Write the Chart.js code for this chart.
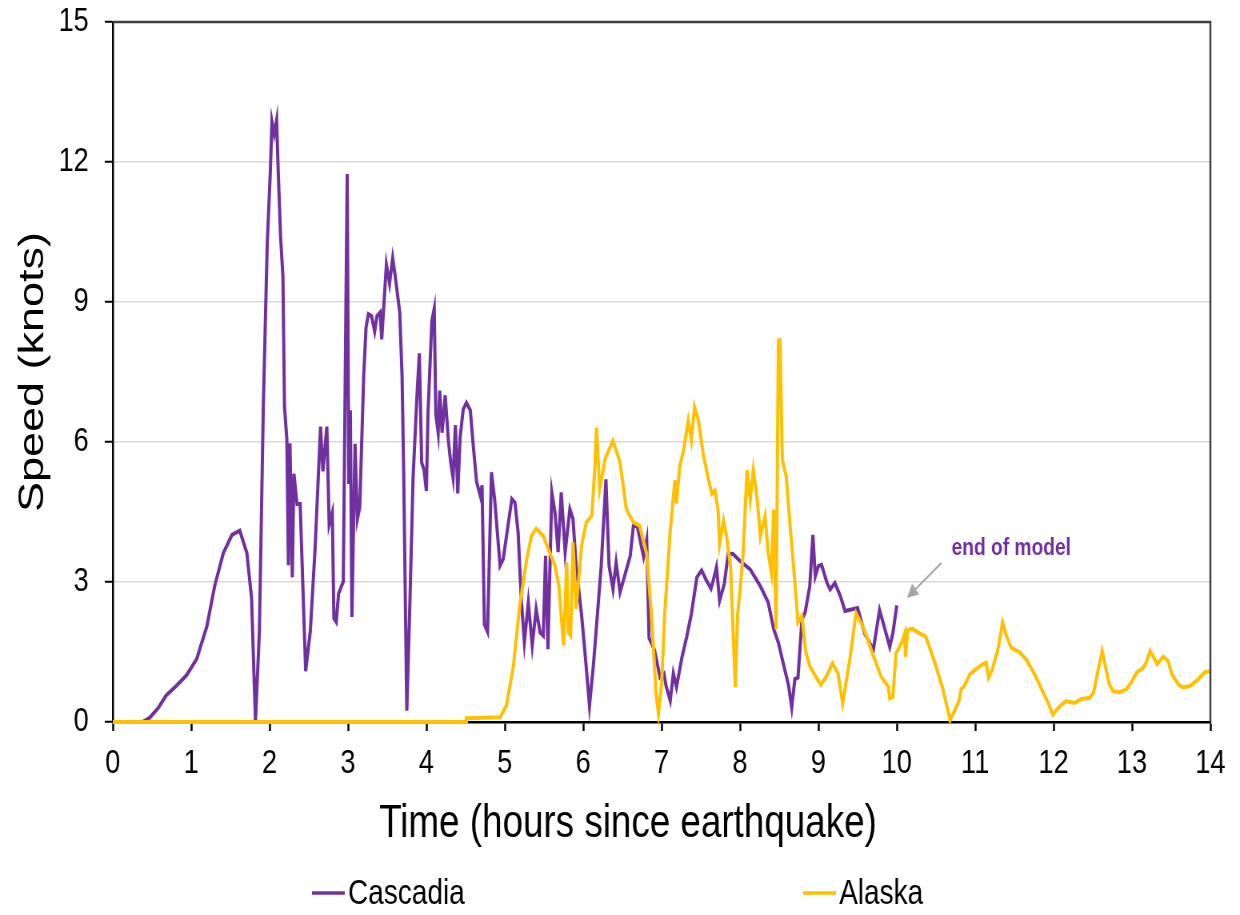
<!DOCTYPE html>
<html>
<head>
<meta charset="utf-8">
<script src="https://cdn.jsdelivr.net/npm/chart.js@4"></script>
<style>
  body { margin: 0; background: #fff; overflow: hidden; }
  /* the source figure is squeezed horizontally, so draw wide and squeeze */
  #wrap { width: 1550px; height: 915px; transform: scaleX(0.8); transform-origin: 0 0; }
</style>
</head>
<body>
<div id="wrap"><canvas id="speedChart" width="1550" height="915"></canvas></div>
<script>
// Cascadia current speed (hours since quake / knots)
const cascadiaHours = [0, 0.38, 0.47, 0.58, 0.68, 0.79, 0.94, 1.07, 1.20, 1.30, 1.41, 1.52, 1.62, 1.71, 1.77, 1.82, 1.87, 1.92, 1.97, 2.01,
  2.03, 2.06, 2.09, 2.11, 2.14, 2.17, 2.19, 2.22, 2.24, 2.26, 2.29, 2.31, 2.35, 2.39, 2.46, 2.52, 2.58, 2.65, 2.68, 2.73,
  2.76, 2.80, 2.82, 2.85, 2.88, 2.94, 2.99, 3.01, 3.03, 3.05, 3.09, 3.12, 3.15, 3.20, 3.23, 3.26, 3.30, 3.34, 3.37, 3.41,
  3.43, 3.46, 3.49, 3.53, 3.57, 3.60, 3.66, 3.69, 3.71, 3.75, 3.79, 3.83, 3.88, 3.91, 3.94, 3.97, 4.00, 4.02, 4.07, 4.10,
  4.12, 4.15, 4.17, 4.20, 4.24, 4.28, 4.31, 4.34, 4.37, 4.40, 4.43, 4.47, 4.51, 4.56, 4.60, 4.64, 4.69, 4.71, 4.74, 4.78,
  4.83, 4.87, 4.94, 4.98, 5.04, 5.09, 5.13, 5.17, 5.21, 5.25, 5.30, 5.35, 5.40, 5.45, 5.49, 5.52, 5.55, 5.60, 5.64, 5.68,
  5.72, 5.77, 5.83, 5.87, 5.91, 5.98, 6.03, 6.08, 6.13, 6.19, 6.23, 6.29, 6.33, 6.38, 6.42, 6.47, 6.53, 6.60, 6.64, 6.69,
  6.74, 6.77, 6.81, 6.84, 6.91, 6.98, 7.03, 7.06, 7.11, 7.15, 7.19, 7.26, 7.32, 7.38, 7.45, 7.51, 7.57, 7.63, 7.66, 7.70,
  7.74, 7.80, 7.85, 7.91, 8.00, 8.13, 8.26, 8.36, 8.43, 8.49, 8.55, 8.62, 8.66, 8.70, 8.74, 8.79, 8.83, 8.89, 8.93, 8.96,
  9.00, 9.04, 9.11, 9.15, 9.21, 9.28, 9.34, 9.50, 9.59, 9.70, 9.78, 9.84, 9.91, 9.95, 10.00];
const cascadiaSpeed = [0, 0, 0.09, 0.3, 0.57, 0.74, 1.0, 1.35, 2.05, 2.92, 3.62, 4.01, 4.1, 3.62, 2.66, 0, 1.96, 6.76, 10.25, 11.82,
  12.87, 12.6, 12.9, 11.8, 10.4, 9.55, 6.76, 6.06, 3.36, 5.97, 3.1, 5.32, 4.67, 4.67, 1.09, 1.96, 3.71, 6.33, 5.37, 6.33,
  4.23, 4.49, 2.22, 2.14, 2.75, 3.01, 11.74, 5.1, 6.68, 2.25, 5.96, 4.35, 4.6, 7.4, 8.45, 8.74, 8.7, 8.37, 8.7, 8.78,
  8.2, 9.0, 9.8, 9.4, 9.94, 9.58, 8.78, 7.4, 5.4, 0.24, 2.58, 5.23, 7.0, 7.9, 5.56, 5.4, 4.95, 6.6, 8.6, 8.86,
  6.6, 6.2, 7.1, 6.2, 7.0, 6.04, 5.56, 5.23, 6.36, 4.9, 6.1, 6.7, 6.84, 6.68, 5.88, 5.15, 4.83, 5.07, 2.09, 1.93,
  5.35, 4.78, 3.35, 3.49, 4.2, 4.78, 4.7, 4.06, 2.64, 1.71, 2.56, 1.64, 2.42, 1.92, 1.85, 3.56, 1.56, 4.92, 4.49, 3.64,
  4.92, 3.64, 4.56, 4.35, 3.35, 2.28, 1.35, 0.35, 1.21, 2.49, 3.35, 5.2, 3.35, 2.85, 3.42, 2.78, 3.14, 3.56, 4.2, 4.2,
  3.78, 3.54, 3.9, 1.8, 1.54, 0.96, 1.04, 0.75, 0.46, 1.04, 0.75, 1.39, 1.82, 2.32, 3.1, 3.25, 3.04, 2.86, 3.04, 3.32,
  2.6, 2.96, 3.61, 3.6, 3.45, 3.27, 2.91, 2.56, 1.99, 1.7, 1.27, 0.78, 0.31, 0.92, 0.95, 2.2, 2.34, 2.91, 4.01, 3.12,
  3.34, 3.37, 2.98, 2.84, 2.98, 2.7, 2.38, 2.44, 1.9, 1.54, 2.4, 2.04, 1.61, 1.9, 2.5];

// Alaska current speed
const alaskaHours = [0, 4.50, 4.51, 4.94, 5.02, 5.11, 5.19, 5.28, 5.34, 5.40, 5.49, 5.57, 5.64, 5.69, 5.72, 5.75, 5.79, 5.81, 5.84, 5.87,
  5.91, 5.98, 6.04, 6.11, 6.15, 6.17, 6.21, 6.28, 6.38, 6.47, 6.55, 6.64, 6.72, 6.81, 6.87, 6.93, 6.96, 7.00, 7.04, 7.11,
  7.17, 7.19, 7.23, 7.28, 7.34, 7.38, 7.42, 7.47, 7.53, 7.60, 7.64, 7.68, 7.72, 7.74, 7.79, 7.83, 7.88, 7.94, 7.97, 8.00,
  8.04, 8.09, 8.13, 8.17, 8.22, 8.26, 8.32, 8.36, 8.40, 8.43, 8.46, 8.49, 8.51, 8.54, 8.59, 8.64, 8.69, 8.74, 8.79, 8.84,
  8.89, 8.96, 9.03, 9.10, 9.18, 9.25, 9.31, 9.40, 9.48, 9.57, 9.69, 9.80, 9.89, 9.91, 9.95, 9.99, 10.06, 10.10, 10.11, 10.14,
  10.20, 10.29, 10.37, 10.40, 10.50, 10.59, 10.68, 10.78, 10.80, 10.82, 10.86, 10.93, 11.01, 11.10, 11.14, 11.17, 11.22, 11.29, 11.35, 11.40,
  11.46, 11.57, 11.65, 11.76, 11.86, 11.93, 11.99, 12.08, 12.16, 12.27, 12.35, 12.46, 12.51, 12.57, 12.62, 12.66, 12.71, 12.76, 12.84, 12.93,
  13.00, 13.06, 13.14, 13.18, 13.23, 13.28, 13.32, 13.40, 13.46, 13.51, 13.59, 13.65, 13.74, 13.84, 13.93, 14.00];
const alaskaSpeed = [0, 0, 0.08, 0.1, 0.35, 1.2, 2.49, 3.49, 3.99, 4.14, 3.99, 3.64, 3.35, 2.92, 2.28, 1.64, 3.42, 1.92, 1.85, 3.85,
  2.42, 3.78, 4.28, 4.42, 5.49, 6.31, 4.99, 5.64, 6.03, 5.56, 4.56, 4.28, 4.21, 3.6, 2.32, 0.61, 0.18, 0.82, 2.32, 4.1,
  5.18, 4.68, 5.46, 5.82, 6.46, 6.04, 6.75, 6.46, 5.75, 5.18, 4.89, 4.96, 4.54, 3.82, 4.32, 3.96, 3.32, 0.75, 2.32, 2.8,
  3.62, 5.4, 4.76, 5.4, 4.76, 3.98, 4.41, 3.62, 3.2, 4.55, 1.99, 8.18, 8.18, 5.62, 5.26, 4.19, 3.2, 2.13, 2.27, 1.5,
  1.2, 0.99, 0.8, 0.97, 1.26, 1.04, 0.4, 1.33, 2.33, 2.04, 1.47, 0.97, 0.76, 0.51, 0.54, 1.47, 1.69, 1.9, 1.4, 1.97,
  2.0, 1.9, 1.83, 1.69, 1.19, 0.69, 0.04, 0.4, 0.49, 0.7, 0.77, 1.02, 1.13, 1.24, 1.27, 0.95, 1.13, 1.56, 2.13, 1.84,
  1.59, 1.49, 1.34, 1.02, 0.66, 0.41, 0.16, 0.34, 0.45, 0.41, 0.49, 0.52, 0.63, 1.13, 1.52, 1.2, 0.81, 0.66, 0.64, 0.7,
  0.88, 1.06, 1.16, 1.27, 1.52, 1.38, 1.24, 1.4, 1.31, 1.02, 0.81, 0.74, 0.77, 0.91, 1.07, 1.09];

const xTicks = [0, 1, 2, 3, 4, 5, 6, 7, 8, 9, 10, 11, 12, 13, 14];
const yTicks = [0, 3, 6, 9, 12, 15];
const xTitle = 'Time (hours since earthquake)';
const yTitle = 'Speed (knots)';

const purple = '#7030A0';
const gold = '#FFC000';
const fontFamily = "'Liberation Sans', Arial, sans-serif";

function toPoints(xs, ys) {
    return xs.map(function(x, i) { return { x: x, y: ys[i] }; });
}

// plot box top/right border, x title, "end of model" note, bottom legend
const extrasPlugin = {
    id: 'extras',
    afterDraw: function(chart) {
        const c = chart.ctx;
        const area = chart.chartArea;
        const xs = chart.scales.x;
        const ys = chart.scales.y;

        c.save();
        c.strokeStyle = '#404040';
        c.lineWidth = 2.5;
        c.beginPath();
        c.moveTo(area.left, area.top);
        c.lineTo(area.right, area.top);
        c.lineTo(area.right, area.bottom);
        c.stroke();

        // x title sits a bit left of the plot centre in the source
        c.fillStyle = '#000';
        c.font = '46px ' + fontFamily;
        c.textAlign = 'center';
        c.textBaseline = 'middle';
        c.fillText(xTitle, chart.width / 2 + 10, 824);

        // arrow to the end of the Cascadia run
        const tx = xs.getPixelForValue(10.57), ty = ys.getPixelForValue(3.41);
        const hx = xs.getPixelForValue(10.13), hy = ys.getPixelForValue(2.66);
        const ang = Math.atan2(hy - ty, hx - tx);
        c.strokeStyle = '#A6A6A6';
        c.fillStyle = '#A6A6A6';
        c.lineWidth = 2;
        c.beginPath();
        c.moveTo(tx, ty);
        c.lineTo(hx - 8 * Math.cos(ang), hy - 8 * Math.sin(ang));
        c.stroke();
        c.beginPath();
        c.moveTo(hx, hy);
        c.lineTo(hx - 14 * Math.cos(ang) + 7 * Math.sin(ang), hy - 14 * Math.sin(ang) - 7 * Math.cos(ang));
        c.lineTo(hx - 14 * Math.cos(ang) - 7 * Math.sin(ang), hy - 14 * Math.sin(ang) + 7 * Math.cos(ang));
        c.closePath();
        c.fill();

        c.fillStyle = purple;
        c.font = 'bold 24px ' + fontFamily;
        c.fillText('end of model', xs.getPixelForValue(11.46), ys.getPixelForValue(3.71));

        // legend
        const items = [
            { x: 390, ds: chart.data.datasets[0] },
            { x: 1004, ds: chart.data.datasets[1] }
        ];
        c.font = '35px ' + fontFamily;
        c.textAlign = 'left';
        items.forEach(function(it) {
            c.strokeStyle = it.ds.borderColor;
            c.lineWidth = 3.5;
            c.beginPath();
            c.moveTo(it.x, 893);
            c.lineTo(it.x + 41, 893);
            c.stroke();
            c.fillStyle = '#000';
            c.fillText(it.ds.label, it.x + 45, 894);
        });
        c.restore();
    }
};

const ctx = document.getElementById('speedChart').getContext('2d');
const speedChart = new Chart(ctx, {
    type: 'line',
    data: {
        datasets: [{
            label: 'Cascadia',
            data: toPoints(cascadiaHours, cascadiaSpeed),
            borderColor: purple,
            backgroundColor: purple,
            borderWidth: 4,
            pointRadius: 0,
            tension: 0,
            clip: 4,
            order: 1
        }, {
            label: 'Alaska',
            data: toPoints(alaskaHours, alaskaSpeed),
            borderColor: gold,
            backgroundColor: gold,
            borderWidth: 4,
            pointRadius: 0,
            tension: 0,
            clip: 4,
            order: 0
        }]
    },
    options: {
        responsive: false,
        animation: false,
        events: [],
        layout: { padding: { left: 15, top: 22, right: 37, bottom: 66 } },
        plugins: {
            legend: { display: false },
            tooltip: { enabled: false }
        },
        scales: {
            x: {
                type: 'linear',
                min: 0,
                max: 14,
                afterBuildTicks: function(scale) {
                    scale.ticks = xTicks.map(function(v) { return { value: v }; });
                },
                afterFit: function(scale) {
                    scale.height = 127;
                    scale.paddingLeft = 0;
                    scale.paddingRight = 0;
                },
                grid: { drawOnChartArea: false, tickColor: '#000', tickLength: 9, tickWidth: 2.5 },
                border: { color: '#000', width: 2.5 },
                ticks: { color: '#000', padding: 12, font: { family: fontFamily, size: 34 }, maxRotation: 0 }
            },
            y: {
                min: 0,
                max: 15,
                afterBuildTicks: function(scale) {
                    scale.ticks = yTicks.map(function(v) { return { value: v }; });
                },
                afterFit: function(scale) {
                    scale.width = 126;
                    scale.paddingTop = 0;
                    scale.paddingBottom = 0;
                },
                grid: { color: '#D9D9D9', lineWidth: 1.5, tickColor: '#000', tickLength: 10, tickWidth: 2 },
                border: { color: '#000', width: 2.5 },
                ticks: { color: '#000', padding: 20, font: { family: fontFamily, size: 34 } },
                title: {
                    display: true,
                    text: yTitle,
                    color: '#000',
                    padding: 0,
                    font: { family: fontFamily, size: 45 }
                }
            }
        }
    },
    plugins: [extrasPlugin]
});
</script>
</body>
</html>
